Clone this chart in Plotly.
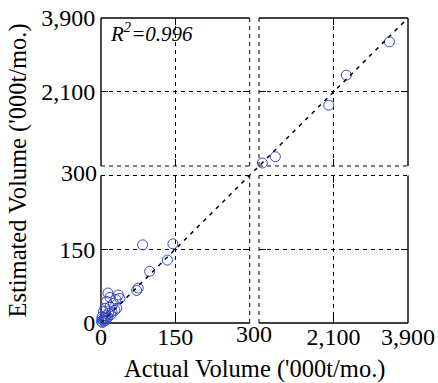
import plotly.graph_objects as go
import numpy as np

# ---------------- data ----------------
actual = [3450, 2410, 1985, 695, 380, 84, 145, 134, 98, 75, 72, 14, 35, 18, 30, 38,
          11, 25, 18, 32, 8, 22, 5, 15, 28, 10, 2, 7, 12, 4, 1, 3, 6, 9, 2, 14, 20]
estimated = [3320, 2510, 1780, 525, 373, 159, 161, 128, 105, 71, 66, 61, 57, 52, 48, 50,
             44, 40, 33, 30, 30, 23, 23, 20, 26, 15, 13, 9, 10, 6, 3, 1, 4, 5, 8, 12, 17]
break_value = 300
low_range = [0, 300]
high_range = [300, 3900]
low_ticks = [0, 150, 300]
low_ticktext = ["0", "150", ""]
high_ticks = [300, 2100, 3900]
high_ticktext = ["", "2,100", "3,900"]
break_label = "300"
r2_text = "<i>R<sup>2</sup>=0.996</i>"
x_title = "Actual Volume ('000t/mo.)"
y_title = "Estimated Volume ('000t/mo.)"

FONT = "Liberation Serif, Times New Roman, serif"
FS = 24
FT = 24.5
MARK = "rgb(55,75,195)"

a = np.array(actual)
e = np.array(estimated)
xlo, ylo = a < break_value, e < break_value

XL = [0, 0.4844]
XR = [0.5147, 1]
YB = [0, 0.4836]
YT = [0.5148, 1]

fig = go.Figure()
marker = dict(symbol="circle-open", size=10, color=MARK, line=dict(width=1, color=MARK))
panels = [("x", "y", xlo & ylo), ("x2", "y2", ~xlo & ylo),
          ("x3", "y3", xlo & ~ylo), ("x4", "y4", ~xlo & ~ylo)]
for xa, ya, m in panels:
    fig.add_trace(go.Scatter(x=a[m], y=e[m], mode="markers", marker=marker,
                             xaxis=xa, yaxis=ya, cliponaxis=False, showlegend=False))
# 1:1 reference line across the whole broken frame
fig.add_trace(go.Scatter(x=[0, 1], y=[0, 1], mode="lines",
                         line=dict(color="black", width=1.5, dash="4px,5px"),
                         xaxis="x5", yaxis="y5", showlegend=False, hoverinfo="skip"))

def ax(domain, rng, ticks, text, anchor, labels):
    return dict(domain=domain, range=rng, anchor=anchor, tickmode="array",
                tickvals=ticks, ticktext=text, showticklabels=labels,
                ticks="inside", ticklen=7, tickwidth=1, tickcolor="black",
                showline=True, linecolor="rgba(0,0,0,0)", mirror="ticks",
                showgrid=True, gridcolor="black", gridwidth=1, griddash="4px,4px",
                zeroline=False, automargin=False,
                tickfont=dict(family=FONT, size=FS, color="black"))

xb = ax(XL, low_range, low_ticks, low_ticktext, "y", True)
xb["ticklabelstandoff"] = -8
x2b = ax(XR, high_range, high_ticks, high_ticktext, "y2", True)
x2b["ticklabelstandoff"] = -8

fig.update_layout(
    width=438, height=383,
    margin=dict(l=101, r=30, t=18, b=60),
    paper_bgcolor="white", plot_bgcolor="rgba(0,0,0,0)",
    xaxis=xb,
    yaxis=ax(YB, low_range, low_ticks, low_ticktext, "x", True),
    xaxis2=x2b,
    yaxis2=ax(YB, low_range, low_ticks, low_ticktext, "x2", False),
    xaxis3=ax(XL, low_range, low_ticks, low_ticktext, "y3", False),
    yaxis3=ax(YT, high_range, high_ticks, high_ticktext, "x3", True),
    xaxis4=ax(XR, high_range, high_ticks, high_ticktext, "y4", False),
    yaxis4=ax(YT, high_range, high_ticks, high_ticktext, "x4", False),
    xaxis5=dict(domain=[0, 1], range=[0, 1], anchor="y5", visible=False),
    yaxis5=dict(domain=[0, 1], range=[0, 1], anchor="x5", visible=False),
)

# frame edges: solid outside, dashed along the break
solid = dict(color="black", width=1.4)
dashed = dict(color="black", width=1, dash="4px,4px")
def edge(xn, yn, x0, y0, x1, y1, ln):
    fig.add_shape(type="line", xref=f"{xn} domain", yref=f"{yn} domain",
                  x0=x0, y0=y0, x1=x1, y1=y1, line=ln, layer="below")

# bottom-left
edge("x", "y", 0, 0, 0, 1, solid); edge("x", "y", 0, 0, 1, 0, solid)
edge("x", "y", 1, 0, 1, 1, dashed); edge("x", "y", 0, 1, 1, 1, dashed)
# bottom-right
edge("x2", "y2", 0, 0, 1, 0, solid); edge("x2", "y2", 1, 0, 1, 1, solid)
edge("x2", "y2", 0, 0, 0, 1, dashed); edge("x2", "y2", 0, 1, 1, 1, dashed)
# top-left
edge("x3", "y3", 0, 0, 0, 1, solid); edge("x3", "y3", 0, 1, 1, 1, solid)
edge("x3", "y3", 1, 0, 1, 1, dashed); edge("x3", "y3", 0, 0, 1, 0, dashed)
# top-right
edge("x4", "y4", 0, 1, 1, 1, solid); edge("x4", "y4", 1, 0, 1, 1, solid)
edge("x4", "y4", 0, 0, 0, 1, dashed); edge("x4", "y4", 0, 0, 1, 0, dashed)

tf = dict(family=FONT, size=FS, color="black")
# break labels, centred in the gaps
fig.add_annotation(text=break_label, xref="paper", yref="paper",
                   x=(XL[1] + XR[0]) / 2, y=0, xanchor="center", yanchor="top",
                   yshift=4, showarrow=False, font=tf)
fig.add_annotation(text=break_label, xref="paper", yref="paper",
                   x=0, y=(YB[1] + YT[0]) / 2, xanchor="right", yanchor="middle",
                   xshift=-2, yshift=-2, showarrow=False, font=tf)
fig.add_annotation(text=r2_text, xref="x3 domain", yref="y3 domain", x=0.05, y=0.905,
                   xanchor="left", yanchor="middle", showarrow=False,
                   font=dict(family=FONT, size=21, color="black"))
ttf = dict(family=FONT, size=FT, color="black")
fig.add_annotation(text=x_title, xref="paper", yref="paper", x=0.5, y=0, yshift=-30,
                   xanchor="center", yanchor="top", showarrow=False, font=ttf)
fig.add_annotation(text=y_title, xref="paper", yref="paper", x=0, y=0.5, xshift=-68,
                   xanchor="right", yanchor="middle", textangle=-90, showarrow=False, font=ttf)

fig.write_html("out.html", config={"displayModeBar": False},
               post_script="document.body.style.margin='0';document.body.style.overflow='hidden';")
